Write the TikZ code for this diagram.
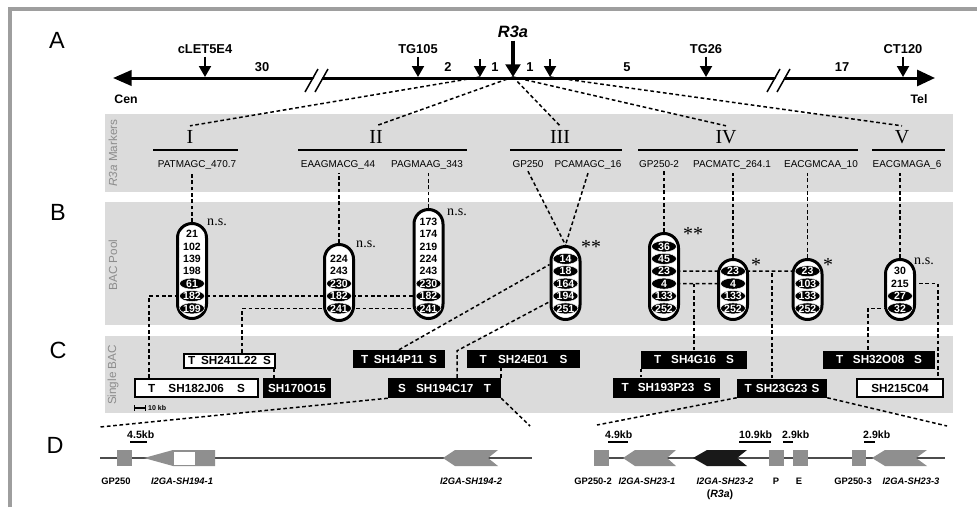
\documentclass[tikz,border=0pt]{standalone}
\usepackage{fontspec}
\setmainfont{Liberation Sans}
\newfontfamily\romanfont{Liberation Serif}
\usetikzlibrary{positioning, arrows.meta, shapes.geometric}
\definecolor{bandgray}{rgb}{0.86,0.86,0.86}
\definecolor{genegray}{rgb}{0.56,0.56,0.56}
\definecolor{framegray}{rgb}{0.62,0.62,0.62}
\pgfdeclarelayer{bands}
\pgfdeclarelayer{links}
\pgfsetlayers{bands,links,main}
\tikzset{
    dotlink/.style={line width=0.45mm, dash pattern=on 1.1mm off 0.8mm}, % dotted connections
    markerarrow/.style={line width=0.6mm, -{Triangle[length=3.3mm, width=3.6mm]}}, % arrows onto the chromosome
    locus/.style={font=\bfseries\fontsize{11}{13}\selectfont, inner sep=1mm, anchor=base},
    grp/.style={font=\romanfont\fontsize{17}{20}\selectfont, anchor=base}, % marker groups I..V
    mname/.style={font=\fontsize{8.5}{10}\selectfont, anchor=base},
    pool/.style={draw, line width=0.9mm, fill=white, rounded corners=4.35mm, minimum width=8.7mm, inner sep=0pt},
    wht/.style={ellipse, fill=white, inner sep=0pt, minimum width=7.5mm, minimum height=3.3mm, font=\bfseries\fontsize{9}{10}\selectfont},
    blk/.style={wht, fill=black, draw=white, line width=0.4pt, text=white},
    ns/.style={font=\romanfont\fontsize{12}{14}\selectfont},
    sig/.style={font=\romanfont\fontsize{17}{20}\selectfont},
    whitebox/.style={draw, line width=0.6mm, fill=white, inner sep=0pt, font=\bfseries\fontsize{10}{12}\selectfont},
    blackbox/.style={fill=black, text=white, inner sep=0pt, font=\bfseries\fontsize{10}{12}\selectfont},
    genelabel/.style={font=\bfseries\itshape\fontsize{8}{10}\selectfont, anchor=base},
    kb/.style={font=\bfseries\fontsize{9}{10}\selectfont, anchor=base west, inner sep=0pt},
    bandlabel/.style={rotate=90, text=black!45, font=\fontsize{10}{12}\selectfont},
    panel/.style={font=\fontsize{20}{24}\selectfont},
}

\begin{document}
\begin{tikzpicture}[x=0.3mm, y=-0.3mm, node distance=3.72mm, on grid]
    \useasboundingbox (0,0) rectangle (977,507);
    \begin{pgfonlayer}{bands}
        \fill[white] (0,0) rectangle (977,507);
        \fill[bandgray] (105,114) rectangle (953,192);
        \fill[bandgray] (105,202) rectangle (953,325);
        \fill[bandgray] (105,336) rectangle (953,413);
    \end{pgfonlayer}
    \draw[framegray, line width=1.2mm] (10,507) -- (10,8.5) -- (977,8.5);

    \node[panel] (pA) at (57,40) {A};
    \node[panel] (pB) at (58,212) {B};
    \node[panel] (pC) at (58,350) {C};
    \node[panel] (pD) at (55,445) {D};

    \node[bandlabel] (lM) at (113,153) {\textit{R3a} Markers};
    \node[bandlabel] (lP) at (113,265) {BAC Pool};
    \node[bandlabel] (lS) at (113,375) {Single BAC};

    % chromosome
    \draw[line width=0.9mm, {Triangle[length=5.6mm, width=4.6mm]}-{Triangle[length=5.4mm, width=4.8mm]}] (113,78) -- (935,78);
    \fill[white] (309,87) -- (318,71) -- (326,71) -- (317,87) -- cycle;
    \draw[line width=0.45mm] (305,92) -- (318,69) (315,92) -- (328,69);
    \fill[white] (771,87) -- (780,71) -- (788,71) -- (779,87) -- cycle;
    \draw[line width=0.45mm] (767,92) -- (780,69) (777,92) -- (790,69);

    \coordinate (c1) at (205,77);
    \coordinate (c2) at (418,77);
    \coordinate (c3) at (480,77);
    \coordinate (c4) at (513,77);
    \coordinate (c5) at (550,77);
    \coordinate (c6) at (706,77);
    \coordinate (c7) at (903,77);
    \coordinate (c3t) at (480,59);
    \coordinate (c5t) at (550,59);

    \node[locus] (cLET) at (205,53) {cLET5E4};
    \node[locus] (TG105) at (418,53) {TG105};
    \node[locus] (TG26) at (706,53) {TG26};
    \node[locus] (CT120) at (903,53) {CT120};
    \node[locus, font=\bfseries\itshape\fontsize{14}{16}\selectfont] (R3a) at (513,37) {R3a};
    \draw[markerarrow] (cLET) -- (c1);
    \draw[markerarrow] (TG105) -- (c2);
    \draw[markerarrow] (c3t) -- (c3);
    \draw[markerarrow] (c5t) -- (c5);
    \draw[markerarrow] (TG26) -- (c6);
    \draw[markerarrow] (CT120) -- (c7);
    \draw[line width=1.2mm, -{Triangle[length=3.8mm, width=4.4mm]}] (R3a) -- (c4);

    \node[locus] (d1) at (262,71) {30};
    \node[locus] (d2) at (448,71) {2};
    \node[locus] (d3) at (495,71) {1};
    \node[locus] (d4) at (530,71) {1};
    \node[locus] (d5) at (627,71) {5};
    \node[locus] (d6) at (842,71) {17};
    \node[locus, font=\bfseries\fontsize{10.5}{12}\selectfont] (cen) at (126,103) {Cen};
    \node[locus, font=\bfseries\fontsize{10.5}{12}\selectfont] (tel) at (919,103) {Tel};

    % marker groups
    \node[grp] (g1) at (190,143) {I};
    \node[grp] (g2) at (376,143) {II};
    \node[grp] (g3) at (560,143) {III};
    \node[grp] (g4) at (726,143) {IV};
    \node[grp] (g5) at (902,143) {V};
    \draw[line width=0.7mm] (153,150) -- (238,150);
    \draw[line width=0.7mm] (298,150) -- (467,150);
    \draw[line width=0.7mm] (510,150) -- (622,150);
    \draw[line width=0.7mm] (638,150) -- (858,150);
    \draw[line width=0.7mm] (872,150) -- (945,150);

    \node[mname] (m1) at (197,167) {PATMAGC\_470.7};
    \node[mname] (m2) at (338,167) {EAAGMACG\_44};
    \node[mname] (m3) at (427,167) {PAGMAAG\_343};
    \node[mname] (m4) at (528,167) {GP250};
    \node[mname] (m5) at (588,167) {PCAMAGC\_16};
    \node[mname] (m6) at (659,167) {GP250-2};
    \node[mname] (m7) at (732,167) {PACMATC\_264.1};
    \node[mname] (m8) at (821,167) {EACGMCAA\_10};
    \node[mname] (m9) at (907,167) {EACGMAGA\_6};

    % BAC pools
    \node[pool, minimum height=28.5mm] (p1) at (192,271) {};
    \node[wht] (p1a) at (192,234) {21};
    \node[wht] (p1b) [below=of p1a] {102};
    \node[wht] (p1c) [below=of p1b] {139};
    \node[wht] (p1d) [below=of p1c] {198};
    \node[blk] (p1e) [below=of p1d] {61};
    \node[blk] (p1f) [below=of p1e] {182};
    \node[blk] (p1g) [below=of p1f] {199};
    \node[ns] (n1) at (217,222) {n.s.};

    \node[pool, minimum height=22.8mm] (p2) at (339,282.5) {};
    \node[wht] (p2a) at (339,258.8) {224};
    \node[wht] (p2b) [below=of p2a] {243};
    \node[blk] (p2c) [below=of p2b] {230};
    \node[blk] (p2d) [below=of p2c] {182};
    \node[blk] (p2e) [below=of p2d] {241};
    \node[ns] (n2) at (366,244) {n.s.};

    \node[pool, minimum height=32.7mm] (p3) at (428.5,264) {};
    \node[wht] (p3a) at (428.5,221.6) {173};
    \node[wht] (p3b) [below=of p3a] {174};
    \node[wht] (p3c) [below=of p3b] {219};
    \node[wht] (p3d) [below=of p3c] {224};
    \node[wht] (p3e) [below=of p3d] {243};
    \node[blk] (p3f) [below=of p3e] {230};
    \node[blk] (p3g) [below=of p3f] {182};
    \node[blk] (p3h) [below=of p3g] {241};
    \node[ns] (n3) at (457,212) {n.s.};

    \node[pool, minimum height=21.9mm] (p4) at (565.5,283) {};
    \node[blk] (p4a) at (565.5,258.8) {14};
    \node[blk] (p4b) [below=of p4a] {18};
    \node[blk] (p4c) [below=of p4b] {164};
    \node[blk] (p4d) [below=of p4c] {194};
    \node[blk] (p4e) [below=of p4d] {251};
    \node[sig] (n4) at (591,247) {**};

    \node[pool, minimum height=25.8mm] (p5) at (664,276.5) {};
    \node[blk] (p5a) at (664,246.4) {36};
    \node[blk] (p5b) [below=of p5a] {45};
    \node[blk] (p5c) [below=of p5b] {23};
    \node[blk] (p5d) [below=of p5c] {4};
    \node[blk] (p5e) [below=of p5d] {133};
    \node[blk] (p5f) [below=of p5e] {252};
    \node[sig] (n5) at (693,234) {**};

    \node[pool, minimum height=18mm] (p6) at (733,289.5) {};
    \node[blk] (p6a) at (733,271.2) {23};
    \node[blk] (p6b) [below=of p6a] {4};
    \node[blk] (p6c) [below=of p6b] {133};
    \node[blk] (p6d) [below=of p6c] {252};
    \node[sig] (n6) at (756,265) {*};

    \node[pool, minimum height=18mm] (p7) at (807.5,289.5) {};
    \node[blk] (p7a) at (807.5,271.2) {23};
    \node[blk] (p7b) [below=of p7a] {103};
    \node[blk] (p7c) [below=of p7b] {133};
    \node[blk] (p7d) [below=of p7c] {252};
    \node[sig] (n7) at (828,265) {*};

    \node[pool, minimum height=18mm] (p8) at (900,289.5) {};
    \node[wht] (p8a) at (900,271.2) {30};
    \node[wht] (p8b) [below=of p8a] {215};
    \node[blk] (p8c) [below=of p8b] {27};
    \node[blk] (p8d) [below=of p8c] {32};
    \node[ns] (n8) at (924,261) {n.s.};

    % single BACs
    \node[whitebox, minimum width=27.3mm, minimum height=4.2mm] (b241) at (229.5,360.5) {\makebox[24.9mm]{T\hfill SH241L22\hfill S}};
    \node[whitebox, minimum width=36.9mm, minimum height=5.4mm] (b182) at (196.5,388) {\makebox[29.1mm]{T\hfill SH182J06\hfill S}};
    \node[blackbox, minimum width=20.4mm, minimum height=6mm] (b170) at (297,388) {SH170O15};
    \node[blackbox, minimum width=27.6mm, minimum height=5.4mm] (b14) at (399,359) {\makebox[22.8mm]{T\hfill SH14P11\hfill S}};
    \node[blackbox, minimum width=33.9mm, minimum height=6mm] (b194) at (444.5,388) {\makebox[27.9mm]{S\hfill SH194C17\hfill T}};
    \node[blackbox, minimum width=33.9mm, minimum height=5.4mm] (b24) at (523.5,359) {\makebox[26.4mm]{T\hfill SH24E01\hfill S}};
    \node[blackbox, minimum width=31.8mm, minimum height=5.4mm] (b4) at (694,359.5) {\makebox[24mm]{T\hfill SH4G16\hfill S}};
    \node[blackbox, minimum width=32.1mm, minimum height=6mm] (b193) at (666.5,387.5) {\makebox[27mm]{T\hfill SH193P23\hfill S}};
    \node[blackbox, minimum width=27mm, minimum height=5.7mm] (b23) at (782,388) {\makebox[22.5mm]{T\hfill SH23G23\hfill S}};
    \node[blackbox, minimum width=33.6mm, minimum height=5.4mm] (b32) at (879,359.5) {\makebox[25.8mm]{T\hfill SH32O08\hfill S}};
    \node[whitebox, minimum width=25.8mm, minimum height=5.4mm] (b215) at (900,388) {SH215C04};
    \draw[line width=0.45mm] (134,408) -- (145,408);
    \draw[line width=0.3mm] (134,405) -- (134,411) (145,405) -- (145,411);
    \node[kb, font=\bfseries\fontsize{6}{7}\selectfont] (k0) at (148,410) {10 kb};

    % gene maps
    \coordinate (dl1) at (100,427);
    \coordinate (dl2) at (530,426);
    \coordinate (dr1) at (597,425);
    \coordinate (dr2) at (947,426);
    \draw[black!70, line width=0.4mm] (100,458) -- (532,458);
    \draw[black!70, line width=0.4mm] (594,458) -- (945,458);
    \fill[genegray] (117,450) rectangle (132,466);
    \fill[genegray] (144,458) -- (173,450) -- (215,450) -- (215,466) -- (173,466) -- cycle;
    \filldraw[fill=white, draw=genegray] (173,451) rectangle (195,465);
    \fill[genegray] (443,458) -- (455,450) -- (498,450) -- (488,458) -- (498,466) -- (455,466) -- cycle;
    \fill[genegray] (594,450) rectangle (609,466);
    \fill[genegray] (623,458) -- (635,450) -- (676,450) -- (667,458) -- (676,466) -- (635,466) -- cycle;
    \fill[black!90] (693,458) -- (707,450) -- (747,450) -- (737,458) -- (747,466) -- (707,466) -- cycle;
    \fill[genegray] (769,450) rectangle (784,466);
    \fill[genegray] (793,450) rectangle (808,466);
    \fill[genegray] (852,450) rectangle (866,466);
    \fill[genegray] (872,458) -- (885,450) -- (927,450) -- (916,458) -- (927,466) -- (885,466) -- cycle;

    \draw[line width=0.8mm] (130,442) -- (147,442);
    \draw[line width=0.8mm] (608,442) -- (628,442);
    \draw[line width=0.8mm] (739,442) -- (771,442);
    \draw[line width=0.8mm] (783,442) -- (793,442);
    \draw[line width=0.8mm] (864,442) -- (875,442);
    \node[kb] (k1) at (127,438) {4.5kb};
    \node[kb] (k2) at (605,438) {4.9kb};
    \node[kb] (k3) at (739,438) {10.9kb};
    \node[kb] (k4) at (782,438) {2.9kb};
    \node[kb] (k5) at (863,438) {2.9kb};

    \node[genelabel, font=\bfseries\fontsize{8}{10}\selectfont] (e1) at (116,484) {GP250};
    \node[genelabel] (e2) at (182,484) {I2GA-SH194-1};
    \node[genelabel] (e3) at (471,484) {I2GA-SH194-2};
    \node[genelabel, font=\bfseries\fontsize{8}{10}\selectfont] (e4) at (593,484) {GP250-2};
    \node[genelabel] (e5) at (647,484) {I2GA-SH23-1};
    \node[genelabel] (e6) at (725,484) {I2GA-SH23-2};
    \node[genelabel, font=\bfseries\fontsize{9}{10}\selectfont] (e7) at (720,497) {(\textit{R3a})};
    \node[genelabel, font=\bfseries\fontsize{8}{10}\selectfont] (e8) at (776,484) {P};
    \node[genelabel, font=\bfseries\fontsize{8}{10}\selectfont] (e9) at (799,484) {E};
    \node[genelabel, font=\bfseries\fontsize{8}{10}\selectfont] (e10) at (853,484) {GP250-3};
    \node[genelabel] (e11) at (911,484) {I2GA-SH23-3};

    \begin{pgfonlayer}{links}
        % fan from the R3a region to the marker groups
        \draw[dotlink] (c3) -- (g1.north);
        \draw[dotlink] (c4) -- (g2.north);
        \draw[dotlink] (c4) -- (g3.north);
        \draw[dotlink] (c4) -- (g4.north);
        \draw[dotlink] (c5) -- (g5.north);
        % markers to pools
        \draw[dotlink] (p1.north) -- (p1.north |- m1.south);
        \draw[dotlink] (p2.north) -- (p2.north |- m2.south);
        \draw[dotlink] (p3.north) -- (p3.north |- m3.south);
        \draw[dotlink] (m4.south) -- (p4.north);
        \draw[dotlink] (m5.south) -- (p4.north);
        \draw[dotlink] (p5.north) -- (p5.north |- m6.south);
        \draw[dotlink] (p6.north) -- (p6.north |- m7.south);
        \draw[dotlink] (p7.north) -- (p7.north |- m8.south);
        \draw[dotlink] (p8.north) -- (p8.north |- m9.south);
        % pools to single BACs
        \draw[dotlink] ([xshift=4.5mm]b182.north west) |- (p3g);
        \draw[dotlink] ([xshift=3.75mm]b241.north) |- (p3h);
        \draw[dotlink] ([xshift=-0.6mm]b241.south east) -- ([xshift=-0.6mm]b241.south east |- b170.north);
        \draw[dotlink] (b14.north) -- (p4a.south -| p4.west);
        \draw[dotlink] ([xshift=3.75mm]b194.north) -- ++(0,-27) -- (p4d.south -| p4.west);
        \draw[dotlink] (b194.north east) -- (b194.north east |- b24.south);
        \draw[dotlink] (p5c) -- (p7a);
        \draw[dotlink] ([xshift=-3mm]b23.north) -- ([xshift=-3mm]b23.north |- p5c);
        \draw[dotlink] (p5d) -- (p6b);
        \draw[dotlink] (b4.north) -- (b4.north |- p5d);
        \draw[dotlink] (b4.south west) -- (b4.south west |- b193.north);
        \draw[dotlink] (p8b) -| ([xshift=11.4mm]b215.north);
        \draw[dotlink] (p8d) -| ([xshift=-3.3mm]b32.north);
        % zoom into the gene maps
        \draw[dotlink] (b194.south west) -- (dl1);
        \draw[dotlink] (b194.south east) -- (dl2);
        \draw[dotlink] (b23.south west) -- (dr1);
        \draw[dotlink] (b23.south east) -- (dr2);
    \end{pgfonlayer}
\end{tikzpicture}
\end{document}
